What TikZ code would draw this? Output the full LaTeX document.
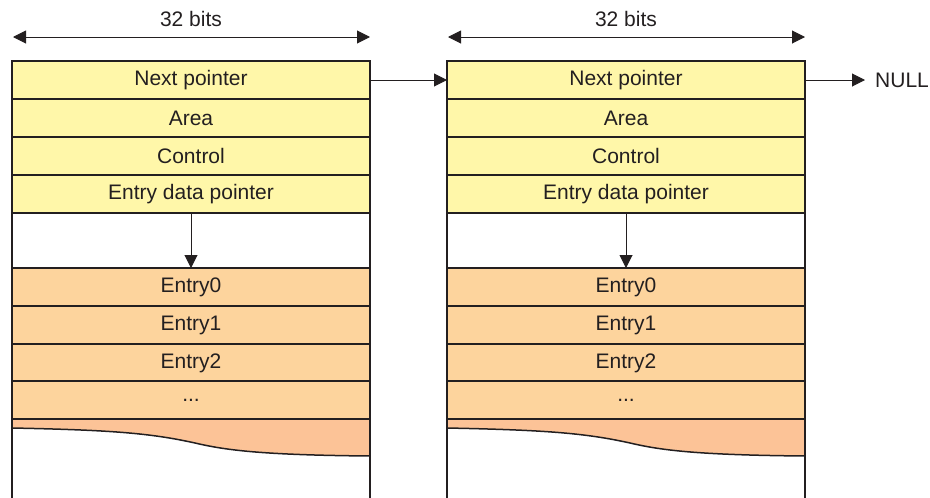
\documentclass[tikz,border=0pt]{standalone}
\usepackage{fontspec}
\setmainfont{Liberation Sans}
\usetikzlibrary{arrows.meta}
\definecolor{lineC}{HTML}{231F20}
\definecolor{yel}{HTML}{FFF7A9}
\definecolor{org}{HTML}{FDD49D}
\definecolor{wav}{HTML}{FCC397}
\begin{document}
\begin{tikzpicture}[x=1pt,y=-1pt, font=\fontsize{21}{25}\selectfont, text=lineC,
 field/.style={draw=lineC, line width=2pt, minimum width=358pt, minimum height=38pt, inner sep=0pt, outer sep=0pt, anchor=north west},
 yfield/.style={field, fill=yel},
 ofield/.style={field, fill=org},
 conn/.style={draw=lineC, line width=1pt, -{Triangle[length=13pt,width=13pt]}},
 dimarrow/.style={draw=lineC, line width=1pt, {Triangle[length=13pt,width=13pt]}-{Triangle[length=13pt,width=13pt]}},
 wall/.style={draw=lineC, line width=2pt},
]
\useasboundingbox (0,0) rectangle (930,498);
\foreach \p/\x in {L/12, R/447}{
  % wave fill
  \fill[wav] (\x,419) -- (\x+358,419) -- (\x+358,456)
     .. controls (\x+248,455) and (\x+213,450) .. (\x+183,443)
     .. controls (\x+138,433) and (\x+98,430) .. (\x,428) -- cycle;
  \node[yfield] (\p1) at (\x,61) {Next pointer};
  \node[yfield] (\p2) at (\x,99) {Area};
  \node[yfield] (\p3) at (\x,137) {Control};
  \node[yfield] (\p4) at (\x,175) {Entry data pointer};
  \node[ofield] (\p E0) at (\x,268) {Entry0};
  \node[ofield] (\p E1) at (\x,306) {Entry1};
  \node[ofield] (\p E2) at (\x,344) {Entry2};
  \node[ofield] (\p E3) at (\x,381) {...};
  \draw[wall] (\x,61) -- (\x,498);
  \draw[wall] (\x+358,61) -- (\x+358,498);
  \draw[wall] (\x,419) -- (\x+358,419);
  \draw[draw=lineC, line width=1.5pt] (\x,428)
     .. controls (\x+98,430) and (\x+138,433) .. (\x+183,443)
     .. controls (\x+213,450) and (\x+248,455) .. (\x+358,456);
  \draw[conn] (\p4.south) -- (\p E0.north);
  \coordinate (\p dl) at (\x+1,37);
  \coordinate (\p dr) at (\x+358,37);
  \draw[dimarrow] (\p dl) -- (\p dr);
  \node (\p bits) at (\x+179,19) {32 bits};
}
\draw[conn] (L1.east) -- (R1.west);
\node[anchor=west, inner xsep=10pt, inner ysep=3pt] (null) at (865,80) {NULL};
\draw[conn] (R1.east) -- (null.west);
\end{tikzpicture}
\end{document}
